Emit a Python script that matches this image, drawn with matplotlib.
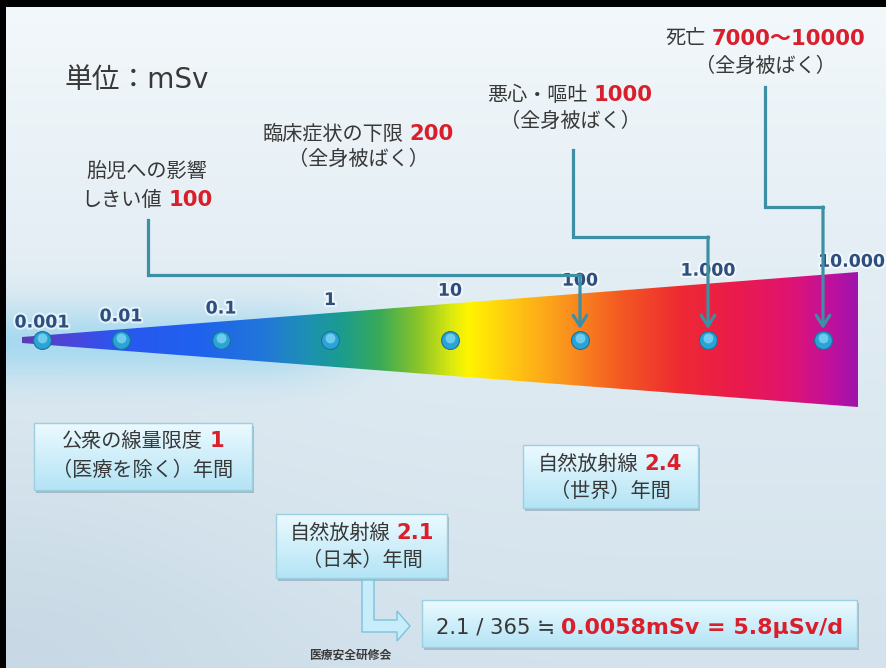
import numpy as np
import matplotlib
matplotlib.use('Agg')
import matplotlib.pyplot as plt
from matplotlib.colors import LinearSegmentedColormap, to_rgb
from matplotlib.patches import Polygon, Rectangle
import matplotlib.patheffects as pe

# ---------------- data ----------------
scale_values = [0.001, 0.01, 0.1, 1, 10, 100, 1000, 10000]
scale_labels = ['0.001', '0.01', '0.1', '1', '10', '100', '1.000', '10.000']

effect_names = ['胎児への影響\nしきい値', '臨床症状の下限', '悪心・嘔吐', '死亡']
effect_values = ['100', '200', '1000', '7000〜10000']
effect_notes = ['', '（全身被ばく）', '（全身被ばく）', '（全身被ばく）']
effect_targets = [100, None, 1000, 10000]

annual_names = ['公衆の線量限度', '自然放射線', '自然放射線']
annual_values = [1, 2.4, 2.1]
annual_notes = ['（医療を除く）年間', '（世界）年間', '（日本）年間']

japan_annual = 2.1
days_per_year = 365
daily_msv = 0.0058
daily_usv = 5.8

unit_label = '単位：mSv'
credit_label = '医療安全研修会'

# ---------------- figure ----------------
W, H = 887, 668
fig = plt.figure(figsize=(W / 100, H / 100), dpi=100)
ax = fig.add_axes([0, 0, 1, 1])
ax.set_xlim(0, W)
ax.set_ylim(H, 0)
ax.set_autoscale_on(False)
ax.set_axis_off()

# dose scale axis (non-uniform logarithmic ruler as drawn in the slide)
dec = np.log10(scale_values)
pos = np.array([0, 79, 179, 288, 408, 538, 666, 781], float)
X0 = 42


def fwd(v):
    v = np.asarray(v, float)
    return np.interp(np.log10(np.clip(v, 1e-9, None)), dec, pos)


def inv(p):
    return 10 ** np.interp(np.asarray(p, float), pos, dec)


sax = fig.add_axes([X0 / W, 0, pos[-1] / W, 1])
sax.set_xscale('function', functions=(fwd, inv))
sax.set_xlim(scale_values[0], scale_values[-1])
sax.set_ylim(H, 0)
sax.set_autoscale_on(False)
sax.set_axis_off()
sax.patch.set_visible(False)


def dose_px(v):
    return sax.transData.transform([[v, 0]])[0, 0]


def c(h):
    return np.array(to_rgb(h))


# ---------------- background ----------------
yy, xx = np.mgrid[0:H, 0:W]
yy = yy.astype(float) + 0.5
xx = xx.astype(float) + 0.5
t = yy / H
top_c, mid_c, bot_c = c('#f3f8fb'), c('#e1ecf3'), c('#d3e2ec')
bg = np.where((t < 0.45)[..., None],
              top_c + (mid_c - top_c) * (t / 0.45)[..., None],
              mid_c + (bot_c - mid_c) * ((t - 0.45) / 0.55)[..., None])
shade = (np.exp(-(xx / 280) ** 2) * np.clip((yy - 360) / 260, 0, 1))[..., None]
bg = bg * (1 - 0.35 * shade) + c('#b3c9d9') * 0.35 * shade
glow = (np.exp(-(np.clip(xx - 260, 0, None) / 90) ** 2)
        * np.exp(-((yy - 343) / 38) ** 2))[..., None]
bg = bg * (1 - 0.75 * glow) + c('#97d4ee') * 0.75 * glow
ax.imshow(np.clip(bg, 0, 1), extent=(0, W, H, 0), aspect='auto', zorder=0,
          interpolation='bilinear')

# ---------------- colour wedge ----------------
WX0, WX1 = 22, 858


def wedge_top(x):
    return 337 - 65 * (x - WX0) / (WX1 - WX0)


def wedge_bot(x):
    return 343 + 64 * (x - WX0) / (WX1 - WX0)


stops = [(22, '#5b3db5'), (70, '#4a46dc'), (115, '#2a56f0'), (200, '#1f62ee'),
         (265, '#2278d8'), (310, '#1d92b0'), (340, '#1a9c90'), (380, '#3aaa58'),
         (420, '#8ec626'), (452, '#dcea10'), (468, '#fff500'), (510, '#ffca10'),
         (560, '#fb9a1c'), (620, '#f35a22'), (680, '#ee2a32'), (740, '#ea1a4e'),
         (790, '#e01470'), (830, '#c2109a'), (858, '#a014ac')]
wcmap = LinearSegmentedColormap.from_list(
    'wedge', [((x - WX0) / (WX1 - WX0), col) for x, col in stops])
wedge_poly = Polygon([(WX0, wedge_top(WX0)), (WX1, wedge_top(WX1)),
                      (WX1, wedge_bot(WX1)), (WX0, wedge_bot(WX0))],
                     closed=True, fc='none', ec='none', zorder=2)
ax.add_patch(wedge_poly)
wim = ax.imshow(np.linspace(0, 1, 512)[None, :], cmap=wcmap,
                extent=(WX0, WX1, wedge_bot(WX1) + 1, wedge_top(WX1) - 1),
                aspect='auto', zorder=2, interpolation='bilinear')
wim.set_clip_path(wedge_poly)

# dots
n = len(scale_values)
sax.scatter(scale_values, np.full(n, 340.0), s=165, c='#2aa3d5',
            edgecolors='#17729f', linewidths=0.8, zorder=4, clip_on=False)
sax.scatter(scale_values, np.full(n, 337.5), s=50, c='#7fd6f5', alpha=0.8,
            linewidths=0, zorder=4.1, clip_on=False)

# tick labels
for i, (v, lab) in enumerate(zip(scale_values, scale_labels)):
    px = dose_px(v)
    ha = 'left' if i == n - 1 else 'center'
    xt = px - 5 if i == n - 1 else px
    ax.text(xt, wedge_top(px) - 13, lab, fontsize=12.5, fontweight='bold',
            color='#2d4f7f', family='DejaVu Sans', ha=ha, va='center',
            zorder=5,
            path_effects=[pe.withStroke(linewidth=3, foreground='white', alpha=0.6)])

# ---------------- rich text helper ----------------
JP = ['DejaVu Sans', 'Noto Sans CJK JP']
TXT = '#383838'
RED = '#d91f2b'
groups = []


def rich(x, yc, parts, size, ha='center', z=10):
    em = size * 100 / 72
    base = yc + 0.36 * em
    objs = []
    for s, col, bold in parts:
        fs = size * 1.05 if bold else size
        tt = ax.text(x, base, s, fontsize=fs, color=col,
                     fontweight='bold' if bold else 'normal',
                     family=JP, ha='left', va='baseline', zorder=z)
        objs.append(tt)
    groups.append((x, ha, em, objs))


# unit label
rich(65, 78, [(unit_label, TXT, False)], 20, ha='left')

# effect labels: (centre x, first line y, line spacing)
effect_pos = [(147, 171, 28), (358, 133, 25), (570, 94, 26), (765, 38, 27)]
for name, val, note, (cx, y1, dy) in zip(effect_names, effect_values,
                                          effect_notes, effect_pos):
    nl = name.split('\n')
    y = y1
    for ln in nl[:-1]:
        rich(cx, y, [(ln, TXT, False)], 14.5)
        y += dy
    rich(cx, y, [(nl[-1], TXT, False), (val, RED, True)], 14.5)
    y += dy
    if note:
        rich(cx, y, [(note, TXT, False)], 14.5)

# connectors: (start x, start y, horizontal y)
LC = '#3d8fa6'
routes = {100: (148, 220, 275), 1000: (573, 150, 237), 10000: (765, 87, 207)}
for tgt in effect_targets:
    if tgt is None:
        continue
    sx, sy, hy = routes[tgt]
    px = dose_px(tgt)
    ax.plot([sx, sx, px], [sy, hy, hy], color=LC, lw=2.3, zorder=6,
            solid_joinstyle='miter', solid_capstyle='projecting')
    ax.annotate('', xy=(px, 329), xytext=(px, hy),
                arrowprops=dict(arrowstyle='->,head_length=0.55,head_width=0.35',
                                color=LC, lw=2.3, shrinkA=0, shrinkB=0,
                                mutation_scale=14), zorder=6)

# ---------------- boxes ----------------
bcmap = LinearSegmentedColormap.from_list('box', ['#ebfaff', '#b4e4f5'])


def gbox(x0, y0, x1, y1):
    ax.add_patch(Rectangle((x0 + 2, y0 + 3), x1 - x0, y1 - y0, fc='#6f8798',
                           ec='none', alpha=0.45, zorder=7))
    rect = Rectangle((x0, y0), x1 - x0, y1 - y0, fc='none', ec='#9ccfe0',
                     lw=1.0, zorder=8.5)
    ax.add_patch(rect)
    im = ax.imshow(np.linspace(0, 1, 64)[:, None], cmap=bcmap,
                   extent=(x0, x1, y1, y0), aspect='auto', zorder=8,
                   interpolation='bilinear')
    im.set_clip_path(rect)


box_rects = [(34, 423, 252, 490), (523, 445, 698, 508), (276, 514, 447, 578)]
box_lines = [(143, 440, 469), (610, 463, 490), (362, 532, 559)]
for name, val, note, rc, (cx, l1, l2) in zip(annual_names, annual_values,
                                               annual_notes, box_rects, box_lines):
    gbox(*rc)
    rich(cx, l1, [(name, TXT, False), (str(val), RED, True)], 14.5)
    rich(cx, l2, [(note, TXT, False)], 14.5)

# L-shaped arrow from Japan box to daily calculation
ax.add_patch(Polygon([(362, 580), (374, 580), (374, 620), (397, 620), (397, 611),
                      (410, 626), (397, 641), (397, 632), (362, 632)],
                     closed=True, fc='#c6edf9', ec='#7cc3dd', lw=1.0, zorder=7))

gbox(422, 600, 857, 647)
rich(436, 626, [(f'{japan_annual} / {days_per_year} ≒', TXT, False),
                (f'{daily_msv}mSv = {daily_usv}μSv/d', RED, True)], 15.2, ha='left')

ax.text(350, 655, credit_label, fontsize=8.5, color='#3a3a3a', family=JP,
        fontweight='bold', ha='center', va='center', zorder=10)

# black frame edges
ax.add_patch(Rectangle((0, 0), W, 7, fc='black', ec='none', zorder=20))
ax.add_patch(Rectangle((0, 0), 6, H, fc='black', ec='none', zorder=20))

# ---------------- lay out rich text ----------------
fig.canvas.draw()
r = fig.canvas.get_renderer()
for x, ha, em, objs in groups:
    ws = [o.get_window_extent(r).width for o in objs]
    gap = 0.3 * em
    total = sum(ws) + gap * (len(objs) - 1)
    cur = x - total / 2 if ha == 'center' else x
    for o, w in zip(objs, ws):
        o.set_x(cur)
        cur += w + gap

ax.set_xlim(0, W)
ax.set_ylim(H, 0)
fig.savefig('out.png', dpi=100)
